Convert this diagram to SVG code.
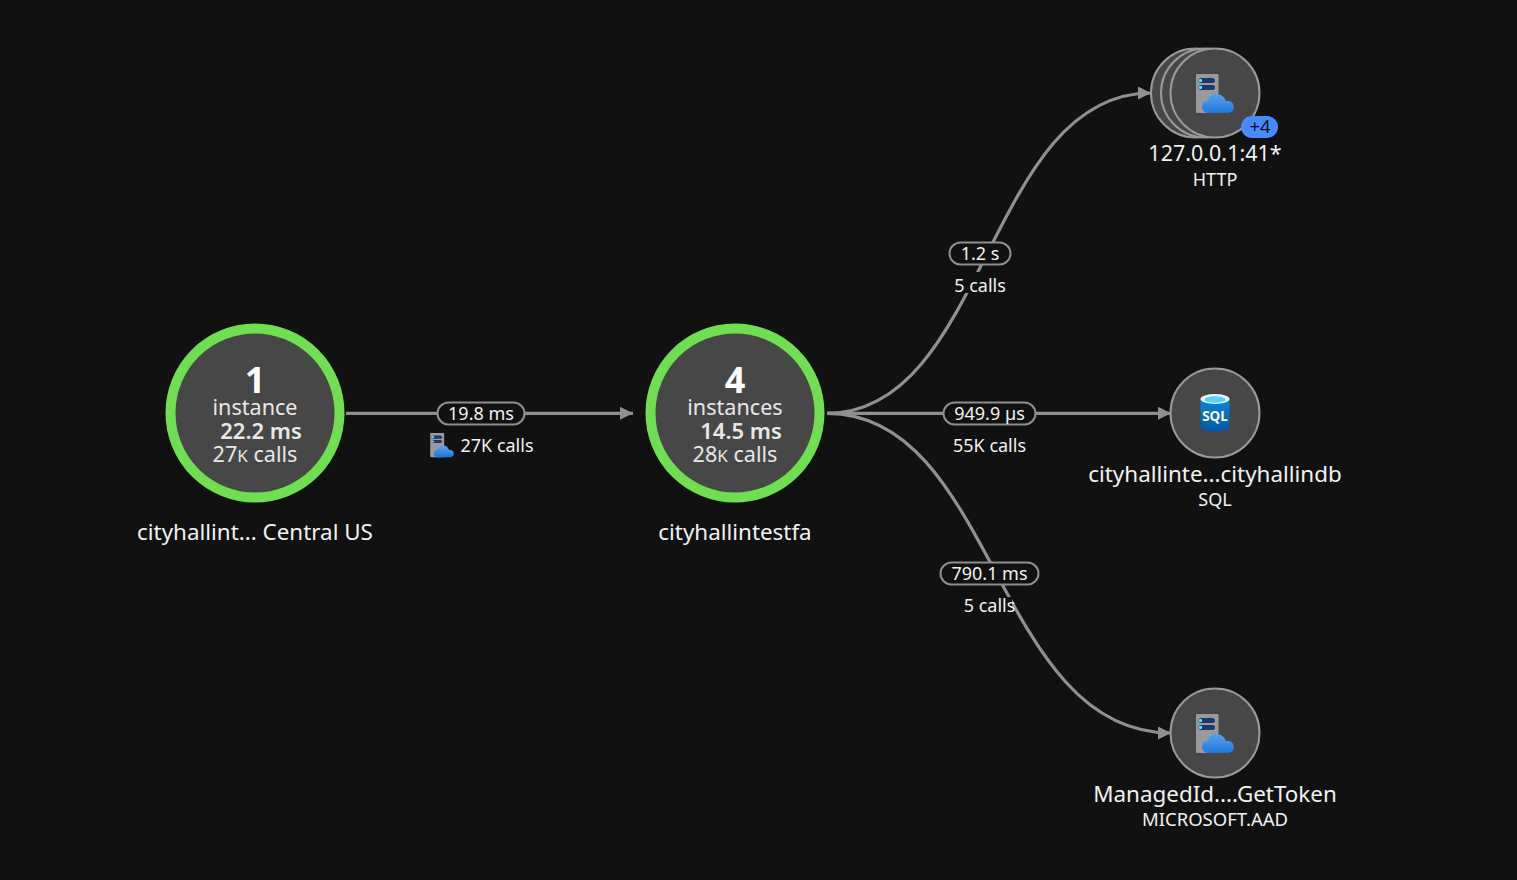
<svg xmlns="http://www.w3.org/2000/svg" width="1517" height="880" viewBox="0 0 1517 880">
<style>
text{font-family:"Noto Sans","Open Sans","Liberation Sans",sans-serif;fill:#f2f2f2;text-anchor:middle}
.edge{fill:none;stroke:#909090;stroke-width:3.2}
.pill{fill:#111;stroke:#8f8f8f;stroke-width:2}
.mask{fill:#111}
.t18{font-size:18px}
.name{font-size:22.400px}
.big{font-size:36px;font-weight:700;fill:#fff}
.stat{font-size:21.600px;fill:#e8e8e8}
.med{font-size:22px;font-weight:600}
.main{fill:#474747;stroke:#6ee04f;stroke-width:10}
.dep{fill:#474747;stroke:#9a9a9a;stroke-width:2}
</style>
<defs>
<marker id="arrow" markerUnits="userSpaceOnUse" markerWidth="14" markerHeight="14" refX="13" refY="7" orient="auto"><path d="M0,0.500L13,7L0,13.500Z" fill="#909090"/></marker>
<linearGradient id="cloud" x1="0" y1="0" x2="0" y2="1"><stop offset="0" stop-color="#5ea0ef"/><stop offset="1" stop-color="#1b78d8"/></linearGradient>
<linearGradient id="sql" x1="0" y1="0" x2="0" y2="1"><stop offset="0" stop-color="#0a85d9"/><stop offset="1" stop-color="#0059a8"/></linearGradient>
<g id="servercloud">
<rect x="-19" y="-20" width="22.500" height="39" rx="1" fill="#9a9a9a"/>
<rect x="-16.500" y="-16" width="16.500" height="5" rx="2.500" fill="#1b3a6b"/>
<rect x="-16.500" y="-9" width="16.500" height="5" rx="2.500" fill="#1b3a6b"/>
<circle cx="-14.500" cy="-13.500" r="1.700" fill="#50e6ff"/>
<circle cx="-14.500" cy="-6.500" r="1.700" fill="#50e6ff"/>
<path d="M-6,19a6.500,6.500 0 0 1 -1,-13a8.500,8.500 0 0 1 7,-6a10,10 0 0 1 11,7a6.500,6.500 0 0 1 8,6a6,6 0 0 1 -6,6Z" fill="url(#cloud)"/>
</g>
</defs>
<rect width="1517" height="880" fill="#111"/>

<g id="connectors">
<path class="edge" marker-end="url(#arrow)" d="M346,413.300H633"/>
<path class="edge" marker-end="url(#arrow)" d="M827,413.300C987,413 987,93 1151,93"/>
<path class="edge" marker-end="url(#arrow)" d="M827,413.300H1171"/>
<path class="edge" marker-end="url(#arrow)" d="M827,413.300C995,413 995,733 1171,733"/>
</g>

<g id="edge-label-1">
<rect class="pill" x="437.500" y="402.500" width="87" height="22" rx="11"/>
<text class="t18" x="481" y="420">19.8 ms</text>
<use href="#servercloud" transform="translate(442,445.500) scale(.62)"/>
<text class="t18" x="497" y="452">27K calls</text>
</g>
<g id="edge-label-2">
<rect class="pill" x="949.500" y="242.500" width="61" height="22" rx="11"/>
<text class="t18" x="980" y="260">1.2 s</text>
<rect class="mask" x="952" y="272" width="56" height="21"/>
<text class="t18" x="980" y="292">5 calls</text>
</g>
<g id="edge-label-3">
<rect class="pill" x="943.500" y="402.500" width="92" height="22" rx="11"/>
<text class="t18" x="989.500" y="420">949.9 µs</text>
<text class="t18" x="989.500" y="452">55K calls</text>
</g>
<g id="edge-label-4">
<rect class="pill" x="940.500" y="562.500" width="98" height="22" rx="11"/>
<text class="t18" x="989.500" y="580">790.1 ms</text>
<rect class="mask" x="962" y="597" width="50" height="17"/>
<text class="t18" x="989.500" y="612">5 calls</text>
</g>

<g id="node-app">
<circle class="main" cx="255" cy="413" r="84.500"/>
<text class="big" x="255" y="393">1</text>
<text class="stat" x="255" y="415">instance</text>
<text class="stat med" x="261" y="439">22.2 ms</text>
<text class="stat" x="255" y="462">27<tspan font-size="17">K</tspan> calls</text>
<text class="name" x="255" y="540">cityhallint... Central US</text>
</g>
<g id="node-func">
<circle class="main" cx="735" cy="413" r="84.500"/>
<text class="big" x="735" y="393">4</text>
<text class="stat" x="735" y="415">instances</text>
<text class="stat med" x="741" y="439">14.5 ms</text>
<text class="stat" x="735" y="462">28<tspan font-size="17">K</tspan> calls</text>
<text class="name" x="735" y="540">cityhallintestfa</text>
</g>
<g id="node-http">
<circle class="dep" cx="1195.500" cy="93" r="44.500"/>
<circle class="dep" cx="1205.500" cy="93" r="44.500"/>
<circle class="dep" cx="1215" cy="93" r="44.500"/>
<use href="#servercloud" transform="translate(1215,94)"/>
<rect x="1241" y="116" width="37" height="22" rx="11" fill="#468bff"/>
<text x="1260" y="133" font-size="18.500" style="fill:#111">+4</text>
<text x="1215" y="161" font-size="21.500">127.0.0.1:41*</text>
<text class="t18" x="1215" y="186">HTTP</text>
</g>
<g id="node-sql">
<circle class="dep" cx="1215" cy="413" r="44.500"/>
<path d="M1200.500,399V426C1200.500,433.500 1229.500,433.500 1229.500,426V399Z" fill="url(#sql)"/>
<ellipse cx="1215" cy="399" rx="14.500" ry="5" fill="#e8f4fb"/>
<ellipse cx="1215" cy="399.500" rx="10.500" ry="3.200" fill="#50d5f5"/>
<text x="1215" y="420.500" font-size="13.500" font-weight="700" style="fill:#fff">SQL</text>
<text class="name" x="1215" y="481.500">cityhallinte...cityhallindb</text>
<text class="t18" x="1215" y="506">SQL</text>
</g>
<g id="node-aad">
<circle class="dep" cx="1215" cy="733" r="44.500"/>
<use href="#servercloud" transform="translate(1215,734)"/>
<text class="name" x="1215" y="801.500">ManagedId....GetToken</text>
<text class="t18" x="1215" y="826" textLength="146" lengthAdjust="spacingAndGlyphs">MICROSOFT.AAD</text>
</g>
</svg>
